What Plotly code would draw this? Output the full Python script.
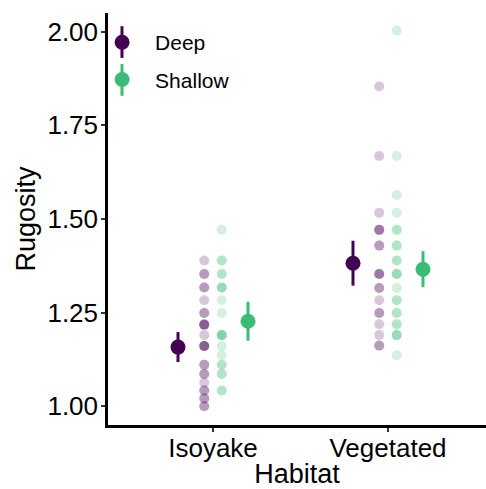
import plotly.graph_objects as go

# ---- data ----
habitats = ["Isoyake", "Vegetated"]
depths = ["Deep", "Shallow"]
colors = {"Deep": "#440154", "Shallow": "#3CBB75"}

iso_deep = [1.389, 1.353, 1.353, 1.317, 1.317, 1.283, 1.249, 1.249,
            1.218, 1.218, 1.218, 1.218, 1.190, 1.161, 1.161, 1.161, 1.161,
            1.111, 1.111, 1.086, 1.086, 1.063, 1.042, 1.042, 1.021, 1.021,
            1.000, 1.000]
iso_shallow = [1.471, 1.389, 1.389, 1.353, 1.353, 1.317, 1.317, 1.317,
               1.283, 1.249, 1.190, 1.190, 1.190, 1.190, 1.161, 1.136,
               1.111, 1.111, 1.086, 1.086, 1.042, 1.042]
veg_deep = [1.854, 1.668, 1.517, 1.471, 1.471, 1.471, 1.429, 1.429,
            1.353, 1.353, 1.353, 1.316, 1.316, 1.283, 1.249, 1.249,
            1.219, 1.190, 1.162, 1.162]
veg_shallow = [2.003, 1.668, 1.564, 1.517, 1.471, 1.471, 1.429, 1.429,
               1.389, 1.389, 1.353, 1.353, 1.353, 1.316, 1.283, 1.283,
               1.249, 1.249, 1.219, 1.219, 1.190, 1.190, 1.190, 1.136]

# group means and error half-widths
mean_deep = [1.158, 1.382]
err_deep = [0.040, 0.060]
mean_shallow = [1.227, 1.366]
err_shallow = [0.052, 0.048]

raw = {"Deep": [iso_deep, veg_deep], "Shallow": [iso_shallow, veg_shallow]}
means = {"Deep": mean_deep, "Shallow": mean_shallow}
errs = {"Deep": err_deep, "Shallow": err_shallow}

point_offset = {"Deep": -0.05, "Shallow": 0.05}
mean_offset = {"Deep": -0.2, "Shallow": 0.2}

fig = go.Figure()

# raw points
for d in depths:
    xs, ys = [], []
    for i, vals in enumerate(raw[d]):
        xs += [i + 1 + point_offset[d]] * len(vals)
        ys += vals
    fig.add_trace(go.Scatter(
        x=xs, y=ys, mode="markers", showlegend=False,
        marker=dict(size=10, color=colors[d], opacity=0.22, line=dict(width=0)),
        hoverinfo="y"))

# means with error bars
for d in depths:
    fig.add_trace(go.Scatter(
        x=[i + 1 + mean_offset[d] for i in range(len(habitats))],
        y=means[d], mode="markers", name=d,
        marker=dict(size=15, color=colors[d]),
        error_y=dict(type="data", array=errs[d], width=0, thickness=3,
                     color=colors[d]),
        legendgroup=d))

font = "Liberation Sans, Arial, sans-serif"
axis_common = dict(showline=True, linecolor="black", linewidth=2.5,
                   ticks="outside", ticklen=4, tickwidth=2, tickcolor="#333333",
                   showgrid=False, zeroline=False,
                   tickfont=dict(size=26, color="black", family=font))

# vertical error-bar strokes behind the legend keys (paper coords)
legend_bars = [(0.037, 0.968, 0.891, colors["Deep"]),
               (0.037, 0.876, 0.799, colors["Shallow"])]
shapes = [dict(type="line", xref="paper", yref="paper", x0=x, x1=x, y0=y0, y1=y1,
               line=dict(color=c, width=3), layer="above")
          for x, y0, y1, c in legend_bars]

fig.update_layout(
    width=486, height=489,
    margin=dict(l=108, r=0, t=13, b=64, pad=0),
    plot_bgcolor="white", paper_bgcolor="white",
    font=dict(family=font, color="black"),
    xaxis=dict(range=[0.4, 2.56], tickvals=[1, 2], ticktext=habitats,
               ticklabelstandoff=-6,
               title=dict(text="Habitat", font=dict(size=27), standoff=0),
               **axis_common),
    yaxis=dict(range=[0.95, 2.05], tickvals=[1.0, 1.25, 1.5, 1.75, 2.0],
               tickformat=".2f", ticklabelstandoff=-2,
               title=dict(text="Rugosity", font=dict(size=27), standoff=4),
               **axis_common),
    legend=dict(x=-0.050, y=0.978, xanchor="left", yanchor="top",
                bgcolor="rgba(0,0,0,0)", font=dict(size=21),
                tracegroupgap=7, itemwidth=56),
    shapes=shapes,
)

fig.write_html("out.html", config={"displayModeBar": False},
               post_script="document.body.style.margin='0px';")
